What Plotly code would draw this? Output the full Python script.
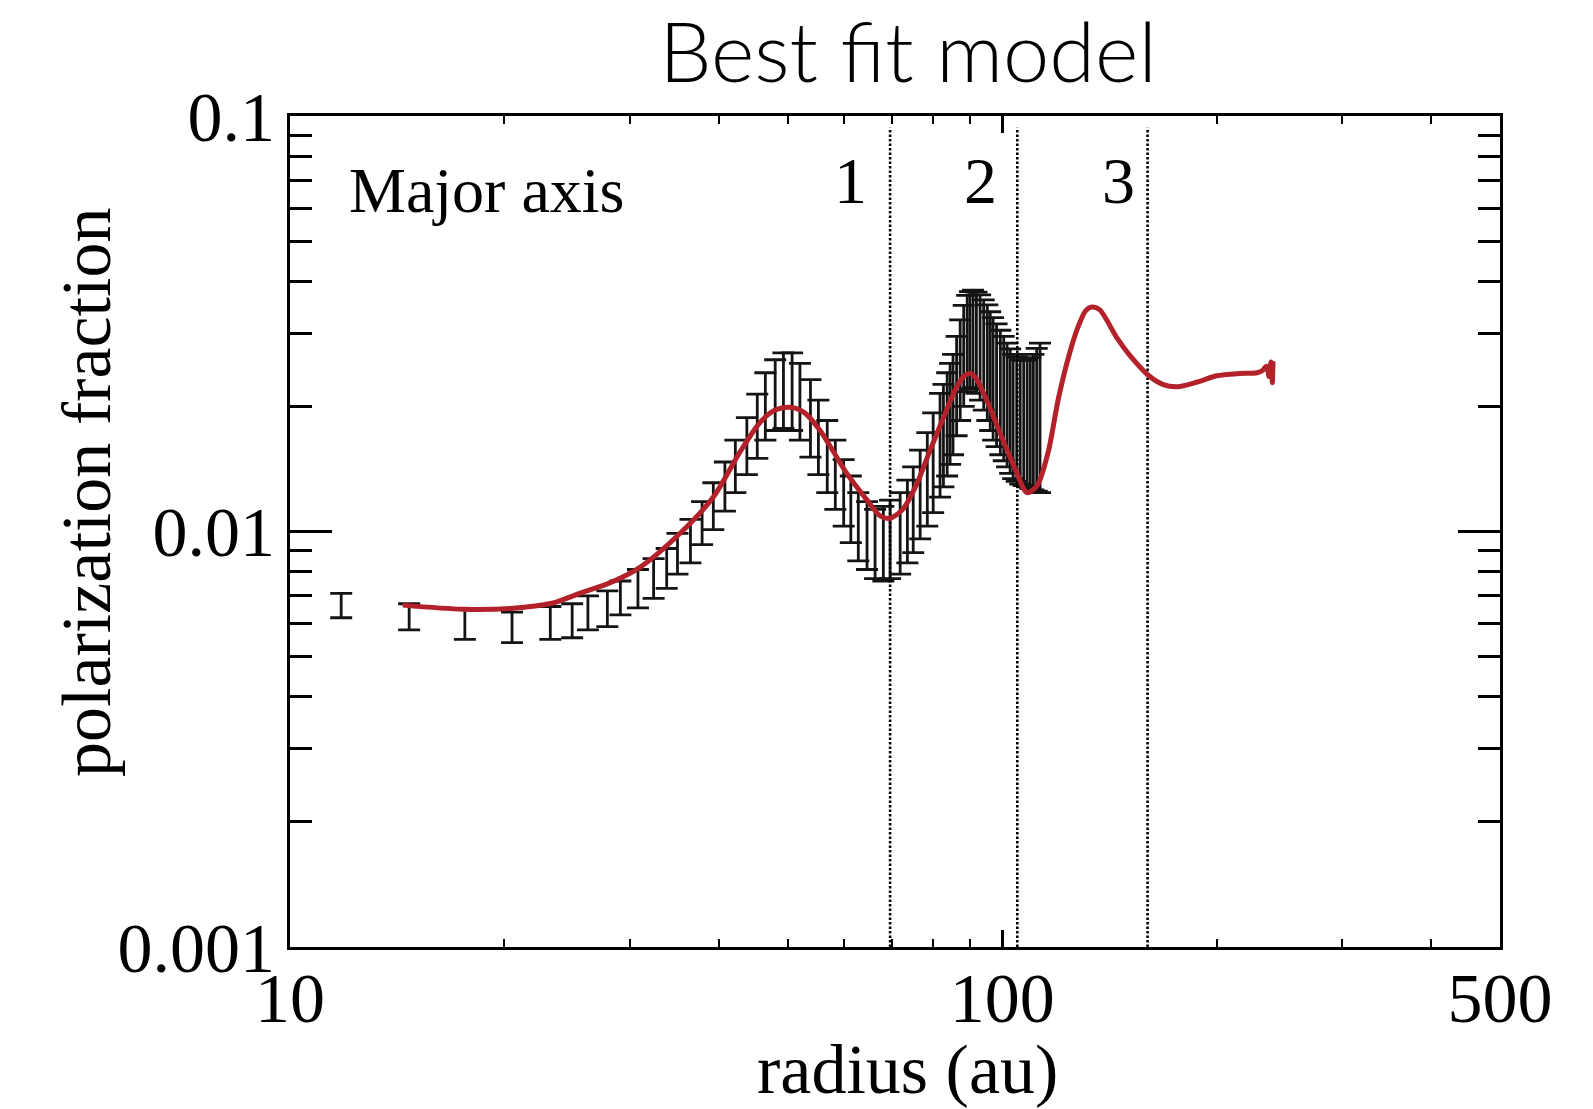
import math
import plotly.graph_objects as go

# Observed polarization fraction along the major axis: radius (au), upper and lower bounds
r_obs = [11.8, 14.7, 17.6, 20.5, 23.2, 24.9, 26.2, 27.9, 29.1, 30.8, 32.4, 33.8,
         35.0, 36.5, 37.9, 39.3, 40.8, 42.2, 43.8, 45.3, 46.5, 48.0, 49.3, 50.7,
         52.0, 53.8, 55.2, 56.8, 58.3, 59.9, 61.3, 62.8, 64.6, 66.3, 68.1, 69.6,
         71.9, 73.6, 75.0, 76.7, 78.5, 80.0, 81.8, 82.7, 83.7, 84.5, 85.3, 86.3,
         87.3, 88.3, 89.3, 90.1, 91.0, 92.0, 93.1, 94.2, 95.3, 96.2, 97.1, 98.2,
         99.4, 100.5, 101.6, 102.6, 103.6, 104.8, 106.0, 107.2, 108.4, 109.5,
         110.6, 111.8, 113.0]
p_hi = [0.0071, 0.0067, 0.0065, 0.0064, 0.0066, 0.0067, 0.0070, 0.0072, 0.0076,
        0.0081, 0.0086, 0.0091, 0.0099, 0.0107, 0.0118, 0.0131, 0.0147, 0.0166,
        0.0188, 0.0214, 0.0241, 0.0259, 0.0269, 0.0269, 0.0254, 0.0232, 0.0207,
        0.0185, 0.0166, 0.0149, 0.0136, 0.0124, 0.0118, 0.0113, 0.0115, 0.0119,
        0.0124, 0.0133, 0.0143, 0.0157, 0.0173, 0.0193, 0.0215, 0.0226, 0.0241,
        0.0254, 0.0267, 0.0295, 0.0323, 0.0350, 0.0370, 0.0378, 0.0381, 0.0377,
        0.0371, 0.0361, 0.0351, 0.0338, 0.0327, 0.0316, 0.0305, 0.0295, 0.0284,
        0.0275, 0.0267, 0.0263, 0.0259, 0.0258, 0.0259, 0.0262, 0.0267, 0.0276,
        0.0284]
p_lo = [0.0062, 0.0058, 0.0055, 0.0054, 0.0055, 0.00555, 0.0058, 0.0059, 0.0063,
        0.00655, 0.0069, 0.0073, 0.0079, 0.0084, 0.0093, 0.0101, 0.0112, 0.0124,
        0.0137, 0.0150, 0.0166, 0.0175, 0.0177, 0.0175, 0.0166, 0.0151, 0.0137,
        0.0124, 0.0113, 0.0103, 0.0094, 0.0085, 0.0081, 0.0077, 0.0076, 0.0077,
        0.0079, 0.0084, 0.0089, 0.0096, 0.0103, 0.0111, 0.0121, 0.0128, 0.0136,
        0.0145, 0.0153, 0.0170, 0.0185, 0.0200, 0.0217, 0.0220, 0.0222, 0.0215,
        0.0207, 0.0196, 0.0185, 0.0175, 0.0166, 0.0160, 0.0153, 0.0148, 0.0143,
        0.0138, 0.0134, 0.0132, 0.0130, 0.0129, 0.0128, 0.0127, 0.0126, 0.0125,
        0.0124]

# Best-fit model curve
r_model = [14.4, 17.5, 20.4, 23.4, 25.5, 28.0, 31.0, 35.3, 39.3, 42.8, 45.7, 48.0,
           50.4, 52.8, 55.5, 57.9, 60.5, 64.6, 67.4, 69.5, 72.5, 76.0, 79.0, 82.6,
           86.0, 88.5, 90.2, 92.0, 95.0, 99.4, 104.0, 108.4, 112.0, 116.0, 120.0,
           124.6, 128.0, 131.0, 133.6, 137.0, 145.0, 152.0, 160.7, 168.0, 176.0,
           188.0, 200.0, 215.0, 228.0, 232.0, 235.0, 237.0, 238.5, 239.5, 240.0]
p_model = [0.00665, 0.0065, 0.00653, 0.00673, 0.0071, 0.0075, 0.0082, 0.0099,
           0.0121, 0.0155, 0.0183, 0.0196, 0.0199, 0.0193, 0.0175, 0.0156, 0.0138,
           0.0119, 0.0109, 0.01075, 0.0113, 0.0131, 0.0155, 0.0187, 0.0220, 0.0237,
           0.0240, 0.0233, 0.0208, 0.0172, 0.0143, 0.0124, 0.0129, 0.0155, 0.0210,
           0.0272, 0.0313, 0.0340, 0.0347, 0.0342, 0.0292, 0.0262, 0.0237, 0.0226,
           0.0223, 0.0229, 0.0237, 0.0240, 0.0241, 0.0244, 0.0250, 0.0236, 0.0256,
           0.0228, 0.0257]

# Ring / gap boundaries and their region labels
ring_edges = [69.6, 105.0, 160.0]
region_labels = ["1", "2", "3"]
region_label_r = [61.2, 93.1, 145.5]

x_tickvals = [10, 100, 500]
x_ticktext = ["10", "100", "500"]
x_minor = [20, 30, 40, 50, 60, 70, 80, 90, 200, 300, 400]
y_tickvals = [0.001, 0.01, 0.1]
y_ticktext = ["0.001", "0.01", "0.1"]
y_minor = [0.002, 0.003, 0.004, 0.005, 0.006, 0.007, 0.008, 0.009,
           0.02, 0.03, 0.04, 0.05, 0.06, 0.07, 0.08, 0.09]

SERIF = "Liberation Serif, Times New Roman, serif"

p_mid = [(h + l) / 2 for h, l in zip(p_hi, p_lo)]
err_up = [h - m for h, m in zip(p_hi, p_mid)]
err_dn = [m - l for m, l in zip(p_mid, p_lo)]

fig = go.Figure()

fig.add_trace(go.Scatter(
    x=r_obs, y=p_mid, mode="markers",
    marker=dict(size=1, color="rgba(0,0,0,0)"),
    error_y=dict(type="data", symmetric=False, array=err_up, arrayminus=err_dn,
                 color="#141414", thickness=2.8, width=11),
    showlegend=False, hoverinfo="skip",
))

for edge in ring_edges:
    fig.add_trace(go.Scatter(
        x=[edge, edge], y=[0.001, 0.0937], mode="lines",
        line=dict(color="black", width=2.6, dash="2.5px,2px"),
        showlegend=False, hoverinfo="skip",
    ))

fig.add_trace(go.Scatter(
    x=r_model, y=p_model, mode="lines",
    line=dict(color="#b3212b", width=5, shape="spline", smoothing=0.8),
    showlegend=False,
))

axis_common = dict(
    type="log", showline=True, linewidth=3, linecolor="black",
    mirror="allticks", ticks="inside", tickcolor="black", showgrid=False,
    zeroline=False, tickfont=dict(family=SERIF, size=70, color="black"),
)

fig.update_xaxes(
    **axis_common,
    range=[1, math.log10(500)],
    tickmode="array", tickvals=x_tickvals, ticktext=x_ticktext,
    ticklen=17, tickwidth=2.5, ticklabelstandoff=-12,
    minor=dict(tickmode="array", tickvals=x_minor, ticks="inside",
               ticklen=8, tickwidth=2, tickcolor="black", showgrid=False),
)
fig.update_yaxes(
    **axis_common,
    range=[-3, -1],
    tickmode="array", tickvals=y_tickvals, ticktext=y_ticktext,
    ticklen=42, tickwidth=2.5, ticklabelstandoff=-2,
    minor=dict(tickmode="array", tickvals=y_minor, ticks="inside",
               ticklen=22, tickwidth=2.5, tickcolor="black", showgrid=False),
)

annotations = [
    dict(text="Major axis", xref="paper", yref="paper", x=0.047, y=0.910,
         xanchor="left", yanchor="middle", showarrow=False,
         font=dict(family=SERIF, size=64, color="black")),
    dict(text="radius (au)", xref="paper", yref="paper", x=0.51, y=-0.147,
         xanchor="center", yanchor="middle", showarrow=False,
         font=dict(family=SERIF, size=70, color="black")),
    dict(text="polarization fraction", xref="paper", yref="paper", x=-0.1686,
         y=0.5475, xanchor="center", yanchor="middle", textangle=-90,
         showarrow=False, font=dict(family=SERIF, size=70, color="black")),
]
for lab, pos in zip(region_labels, region_label_r):
    annotations.append(dict(
        text=lab, xref="x", yref="paper", x=math.log10(pos), y=0.922,
        xanchor="center", yanchor="middle", showarrow=False,
        font=dict(family=SERIF, size=66, color="black")))

fig.update_layout(
    width=1593, height=1109,
    margin=dict(l=290, r=93, t=116, b=162),
    paper_bgcolor="white", plot_bgcolor="white",
    title=dict(text="Best fit model", xref="container", yref="container",
               x=0.570, y=0.952, xanchor="center", yanchor="middle",
               font=dict(family="Lato, Noto Sans, sans-serif", size=83,
                         color="black", weight=300)),
    annotations=annotations,
)

fig.write_html("out.html")
